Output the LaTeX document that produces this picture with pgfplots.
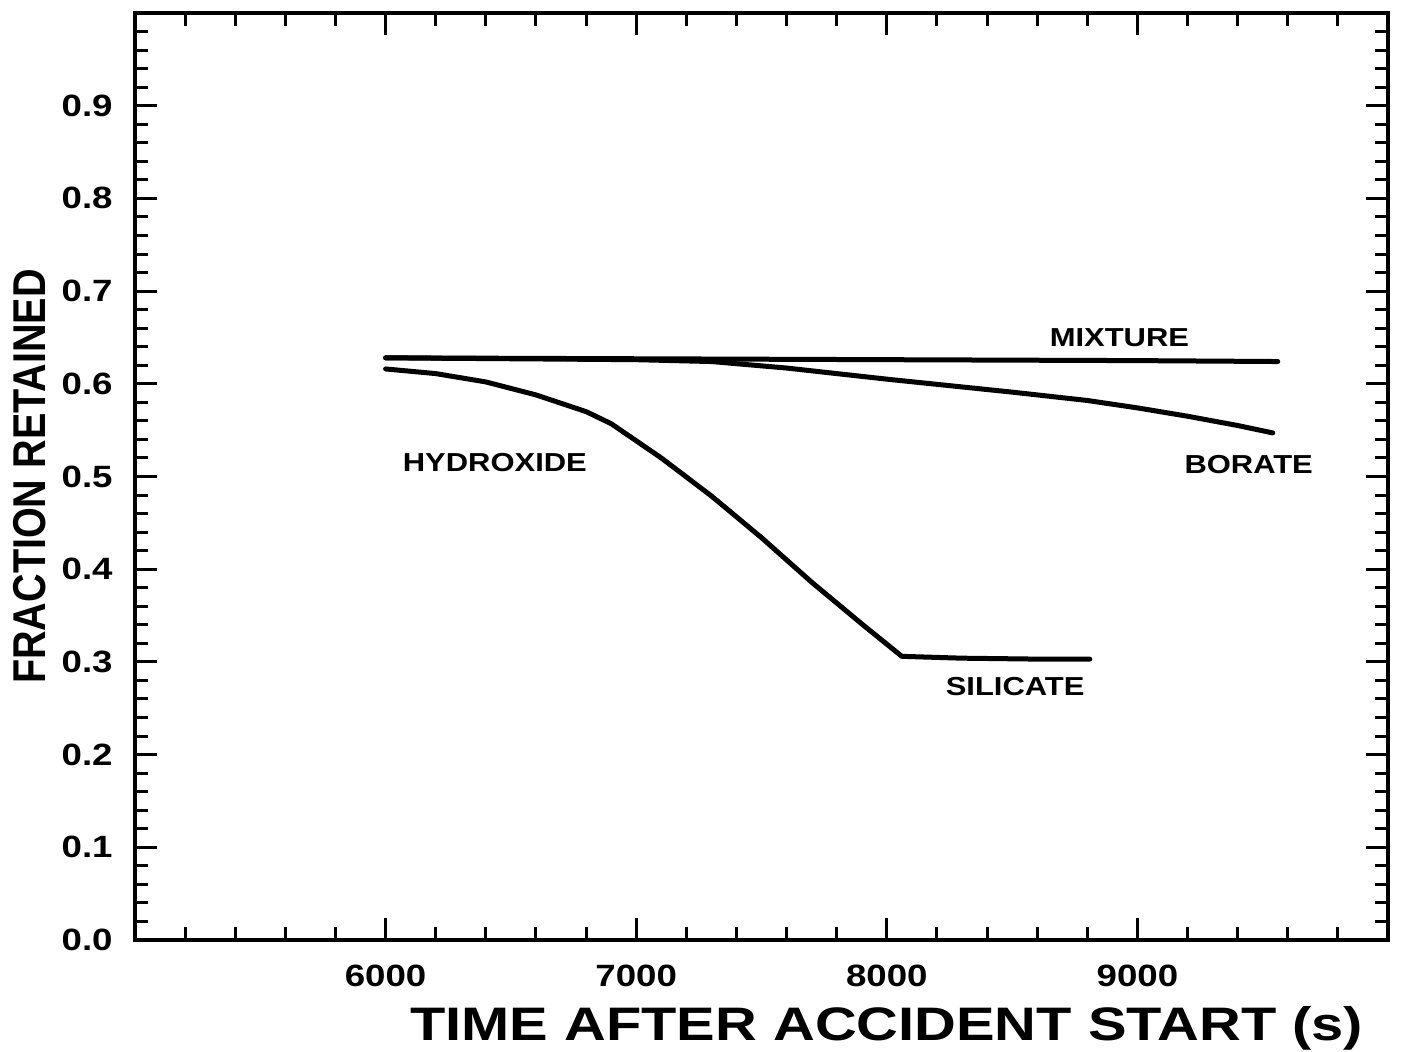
\documentclass[border=0pt]{standalone}
\usepackage{fontspec}
\setmainfont{Liberation Sans}[FakeStretch=1.19]
\newfontfamily\ylabfont{Liberation Sans}[FakeStretch=0.86]
\newfontfamily\xlabfont{Liberation Sans}[FakeStretch=1.23]
\usepackage{pgfplots}
\pgfplotsset{compat=1.18}
\tikzset{curve/.style={black, line width=2.5pt, line join=round, line cap=round, mark=none}}
\begin{document}
\begin{tikzpicture}
\begin{axis}[
  scale only axis, width=626.5pt, height=463.5pt,
  xmin=5000, xmax=10000, ymin=0, ymax=1,
  scaled x ticks=false, scaled y ticks=false,
  axis line style={line width=2pt},
  xtick={6000,7000,8000,9000}, xticklabels={6000,7000,8000,9000},
  minor xtick={5200,5400,...,9800},
  ytick={0,0.1,0.2,0.3,0.4,0.5,0.6,0.7,0.8,0.9},
  yticklabels={0.0,0.1,0.2,0.3,0.4,0.5,0.6,0.7,0.8,0.9},
  minor ytick={0.02,0.04,...,0.99},
  xtick pos=both, ytick pos=both,
  xticklabel pos=lower, yticklabel pos=left,
  tick align=inside, major tick length=11pt, minor tick length=6.5pt,
  every tick/.style={line width=1.5pt, black},
  tick label style={font=\bfseries\fontsize{15.4}{17}\selectfont, inner sep=0pt},
  yticklabel style={xshift=-11pt},
  xticklabel style={yshift=-12.5pt},
  xlabel={TIME AFTER ACCIDENT START (s)},
  ylabel={FRACTION RETAINED},
  x label style={at={(axis description cs:0.6,0)}, anchor=base, yshift=-50pt, font=\xlabfont\bfseries\fontsize{23.5}{26}\selectfont},
  y label style={at={(axis description cs:-0.0842,0.5)}, anchor=center, font=\ylabfont\bfseries\fontsize{23}{26}\selectfont},
  clip=false,
]
% MIXTURE
\addplot[curve] coordinates {(6000,0.628) (7000,0.627) (8000,0.626) (9000,0.625) (9560,0.624)};
% BORATE
\addplot[curve] coordinates {(6000,0.628) (6500,0.627) (7000,0.626) (7300,0.624) (7600,0.617) (8000,0.605) (8500,0.591) (8800,0.582) (9000,0.574) (9200,0.565) (9400,0.555) (9540,0.547)};
% HYDROXIDE / SILICATE
\addplot[curve] coordinates {(6000,0.616) (6200,0.611) (6400,0.602) (6600,0.588) (6800,0.570) (6900,0.557) (7100,0.520) (7300,0.479) (7500,0.434) (7700,0.386) (7900,0.341) (8060,0.306) (8300,0.304) (8600,0.303) (8810,0.303)};
\node[font=\bfseries\fontsize{13}{15}\selectfont] at (axis cs:8928,0.650) {MIXTURE};
\node[font=\bfseries\fontsize{13}{15}\selectfont] at (axis cs:9444,0.513) {BORATE};
\node[font=\bfseries\fontsize{13}{15}\selectfont] at (axis cs:6436,0.515) {HYDROXIDE};
\node[font=\bfseries\fontsize{13}{15}\selectfont] at (axis cs:8512,0.273) {SILICATE};
\end{axis}
\pgfresetboundingbox
\path ([shift={(-67.5pt,-56pt)}]current axis.south west) rectangle ([shift={(8.5pt,6.5pt)}]current axis.north east);
\end{tikzpicture}
\end{document}
